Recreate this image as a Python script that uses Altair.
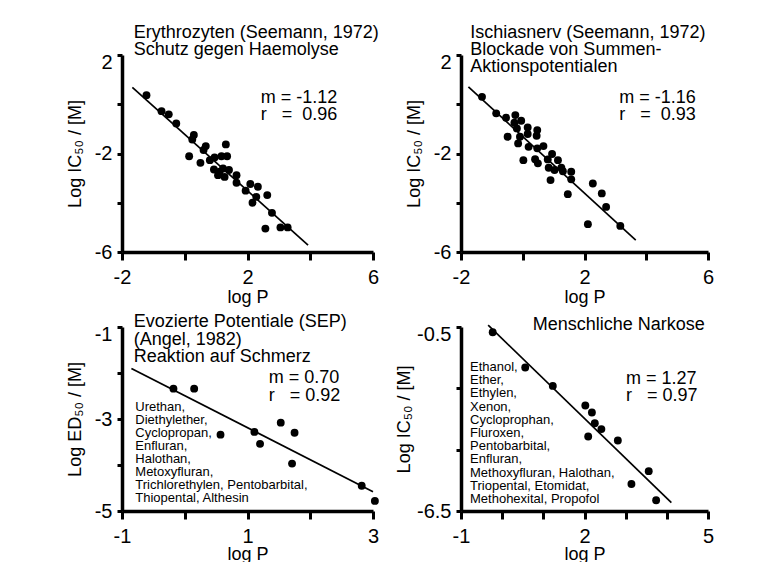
import altair as alt
import pandas as pd

FONT = "Liberation Sans"
NB = "\u00a0"

# ---------------- data ----------------
# Panel A: Erythrozyten (Seemann, 1972)
a_logp = [-1.22, -0.74, -0.51, -0.27, 0.29, 0.24, 0.67, 0.60, 1.31, 0.14, 0.50,
          0.80, 0.95, 1.17, 1.35, 0.93, 1.06, 1.22, 1.27, 1.41, 1.65, 1.65, 1.94,
          2.09, 2.33, 2.16, 2.28, 2.63, 2.78, 2.57, 3.05, 3.28, 1.11]
a_logic = [0.37, -0.28, -0.41, -0.78, -1.25, -1.43, -1.70, -1.86, -1.63, -2.11, -2.38,
           -2.27, -2.16, -2.11, -2.11, -2.65, -2.88, -2.61, -2.95, -2.67, -2.88, -3.19, -3.51,
           -3.24, -3.35, -4.00, -3.76, -3.69, -4.41, -5.05, -5.00, -5.00, -2.74]
a_fit_x = [-1.67, 3.93]
a_fit_y = [0.69, -5.72]

# Panel B: Ischiasnerv (Seemann, 1972)
b_logp = [-1.32, -0.86, -0.54, -0.24, -0.27, -0.05, -0.19, 0.16, 0.47, -0.49, -0.09,
          0.16, 0.45, -0.15, 0.19, 0.47, 0.67, 0.02, 0.40, 0.49, 0.95, 0.81, 1.14,
          0.84, 1.03, 1.25, 1.30, 0.90, 1.57, 1.57, 1.46, 2.27, 2.56, 2.70, 2.11, 3.16]
b_logic = [0.30, -0.37, -0.55, -0.44, -0.75, -0.67, -0.98, -0.94, -1.05, -1.32, -1.32,
           -1.21, -1.28, -1.59, -1.73, -1.79, -1.70, -2.27, -2.23, -2.40, -2.02, -2.24, -2.27,
           -2.58, -2.67, -2.58, -2.72, -3.08, -2.74, -3.05, -3.65, -3.22, -3.62, -4.17, -4.87, -4.94]
b_fit_x = [-1.76, 3.66]
b_fit_y = [0.71, -5.52]

# Panel C: Evozierte Potentiale (SEP)
c_logp = [-0.18, 0.15, 0.57, 1.11, 1.20, 1.53, 1.75, 1.71, 2.82, 3.03]
c_loged = [-2.34, -2.34, -3.34, -3.28, -3.54, -3.08, -3.30, -3.97, -4.45, -4.78]
c_fit_x = [-0.85, 3.0]
c_fit_y = [-1.90, -4.58]

# Panel D: Menschliche Narkose
d_logp = [-0.23, 0.56, 1.23, 2.02, 2.18, 2.25, 2.41, 2.09, 2.81, 3.56, 3.14, 3.74]
d_logic = [-0.67, -1.82, -2.42, -3.06, -3.29, -3.64, -3.83, -4.07, -4.20, -5.20, -5.62, -6.15]
d_fit_x = [-0.34, 4.11]
d_fit_y = [-0.44, -6.23]

# axes: tick positions and which of them carry a label
a_xticks, a_xlabels = [-2, 0, 2, 4, 6], [-2, 2, 6]
a_yticks, a_ylabels = [-6, -4, -2, 0, 2], [-6, -2, 2]
c_xticks, c_xlabels = [-1, 0, 1, 2, 3], [-1, 1, 3]
c_yticks, c_ylabels = [-5, -4, -3, -2, -1], [-5, -3, -1]
d_xticks, d_xlabels = [-1, 0, 1, 2, 3, 4, 5], [-1, 2, 5]
d_yticks, d_ylabels = [-6.5, -5.5, -4.5, -3.5, -2.5, -1.5, -0.5], [-6.5, -3.5, -0.5]

# texts
a_title = ["Erythrozyten (Seemann, 1972)", "Schutz gegen Haemolyse"]
b_title = ["Ischiasnerv (Seemann, 1972)", "Blockade von Summen-", "Aktionspotentialen"]
c_title = ["Evozierte Potentiale (SEP)", "(Angel, 1982)", "Reaktion auf Schmerz"]
d_title = ["Menschliche Narkose"]
a_stats = ["m = -1.12", "r" + NB * 3 + "=" + NB * 2 + "0.96"]
b_stats = ["m = -1.16", "r" + NB * 3 + "=" + NB * 2 + "0.93"]
c_stats = ["m = 0.70", "r" + NB * 3 + "= 0.92"]
d_stats = ["m = 1.27", "r" + NB * 3 + "= 0.97"]
c_drugs = ["Urethan,", "Diethylether,", "Cyclopropan,", "Enfluran,", "Halothan,",
           "Metoxyfluran,", "Trichlorethylen, Pentobarbital,", "Thiopental, Althesin"]
d_drugs = ["Ethanol,", "Ether,", "Ethylen,", "Xenon,", "Cycloprophan,", "Fluroxen,",
           "Pentobarbital,", "Enfluran,", "Methoxyfluran, Halothan,",
           "Triopental, Etomidat,", "Methohexital, Propofol"]

IC_TITLE = "Log IC\u2085\u2080 / [M]"
ED_TITLE = "Log ED\u2085\u2080 / [M]"


def lab_expr(labels):
    return f"indexof({list(labels)}, datum.value) >= 0 ? '' + datum.value : ''"


def text_layer(lines, dx, dy, size, lh):
    return alt.Chart(pd.DataFrame({"k": [0]})).mark_text(
        align="left", baseline="alphabetic", font=FONT, fontSize=size,
        lineHeight=lh, color="black"
    ).encode(x=alt.value(dx), y=alt.value(dy), text=alt.value(lines))


def panel(xs, ys, fx, fy, xdom, ydom, xt, xl, yt, yl, ytitle, ytitle_x, w, h, xtitle_y, texts):
    pts = pd.DataFrame({"x": xs, "y": ys})
    fit = pd.DataFrame({"x": fx, "y": fy})
    xscale = alt.Scale(domain=xdom, nice=False, zero=False)
    yscale = alt.Scale(domain=ydom, nice=False, zero=False)
    xaxis = alt.Axis(
        values=xt, labelExpr=lab_expr(xl), title="log P",
        titleFont=FONT, titleFontSize=18, titleFontWeight="normal", titleColor="black",
        titleX=w / 2, titleY=xtitle_y, titleBaseline="alphabetic", titleAlign="center",
        labelFont=FONT, labelFontSize=20, labelColor="black", labelPadding=7,
        labelFlush=False, labelOverlap=False,
        tickSize=8, tickWidth=3, tickColor="black",
        domainWidth=3.5, domainColor="black", grid=False,
    )
    yaxis = alt.Axis(
        values=yt, labelExpr=lab_expr(yl), title=ytitle,
        titleFont=FONT, titleFontSize=18, titleFontWeight="normal", titleColor="black",
        titleAngle=270, titleX=ytitle_x, titleY=h / 2, titleBaseline="alphabetic",
        titleAlign="center",
        labelFont=FONT, labelFontSize=20, labelColor="black", labelPadding=5,
        labelFlush=False, labelOverlap=False,
        labelOffset={"condition": {"test": f"datum.value == {ydom[1]}", "value": 7.5}, "value": 0},
        tickSize=5, tickWidth=3, tickColor="black",
        domainWidth=3.5, domainColor="black", grid=False,
    )
    dots = alt.Chart(pts).mark_circle(size=62, color="black", opacity=1).encode(
        x=alt.X("x:Q", scale=xscale, axis=xaxis),
        y=alt.Y("y:Q", scale=yscale, axis=yaxis),
    )
    line = alt.Chart(fit).mark_line(color="black", strokeWidth=1.7).encode(
        x=alt.X("x:Q", scale=xscale), y=alt.Y("y:Q", scale=yscale)
    )
    layers = [dots, line] + [text_layer(*t) for t in texts]
    return alt.layer(*layers).properties(width=w, height=h)


p1 = panel(a_logp, a_logic, a_fit_x, a_fit_y, [-2, 6], [-6, 2], a_xticks, a_xlabels,
           a_yticks, a_ylabels, IC_TITLE, -42, 251, 197, 50.5,
           [(a_title, 11.7, -17.3, 18, 17), (a_stats, 138.7, 48.3, 18, 16.7)])
p2 = panel(b_logp, b_logic, b_fit_x, b_fit_y, [-2, 6], [-6, 2], a_xticks, a_xlabels,
           a_yticks, a_ylabels, IC_TITLE, -42, 247, 197, 50.5,
           [(b_title, 9.3, -17.3, 18, 17), (b_stats, 158.3, 48.3, 18, 16.7)])
p3 = panel(c_logp, c_loged, c_fit_x, c_fit_y, [-1, 3], [-5, -1], c_xticks, c_xlabels,
           c_yticks, c_ylabels, ED_TITLE, -42, 251, 184, 48.5,
           [(c_title, 11.7, 0, 18, 17.5), (c_stats, 146.7, 56, 18, 17.5),
            (c_drugs, 13.3, 83.7, 13, 13.1)])
p4 = panel(d_logp, d_logic, d_fit_x, d_fit_y, [-1, 5], [-6.5, -0.5], d_xticks, d_xlabels,
           d_yticks, d_ylabels, IC_TITLE, -52, 247, 184, 48.0,
           [(d_title, 71.7, 2.6, 18, 17), (d_stats, 165, 57.3, 18, 17),
            (d_drugs, 9, 44, 13, 13.2)])

chart = alt.ConcatChart(
    concat=[p1, p2, p3, p4], columns=2,
    spacing={"row": 75, "column": 88}, bounds="flush",
    padding={"left": 58, "top": 15, "right": 5, "bottom": 5},
    background="white",
).configure_view(stroke=None)

chart.save("out.html", embed_options={"renderer": "svg", "actions": False})
